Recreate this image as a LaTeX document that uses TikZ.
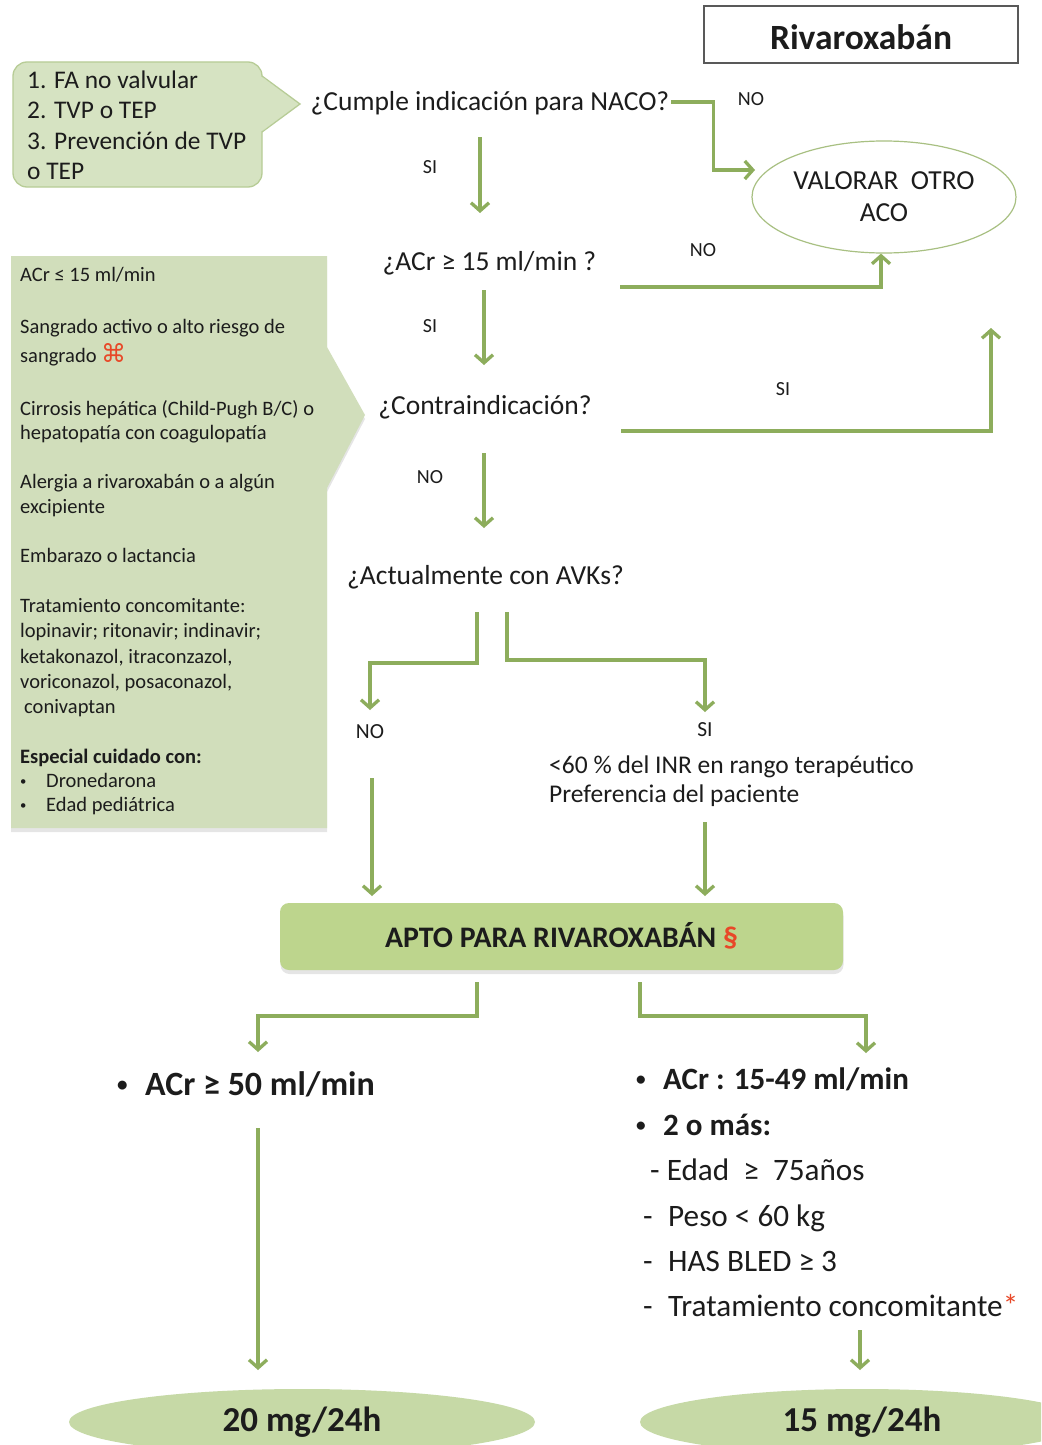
\documentclass[tikz,border=0pt]{standalone}
\usepackage{fontspec}
\setmainfont{Carlito}
\newfontfamily\cmdsignfont{DejaVu Sans}
\usetikzlibrary{arrows.meta,shapes.geometric,shadows}

\definecolor{arrowgreen}{RGB}{141,173,92}
\definecolor{panelgreen}{RGB}{209,222,187}
\definecolor{bubblegreen}{RGB}{214,227,194}
\definecolor{bubbleedge}{RGB}{183,204,150}
\definecolor{aptogreen}{RGB}{189,213,141}
\definecolor{dosegreen}{RGB}{198,217,166}
\definecolor{ovaledge}{RGB}{168,192,130}
\definecolor{ink}{RGB}{28,28,28}
\definecolor{markred}{RGB}{232,72,40}

% small list bullet
\newcommand{\smallbullet}{\raisebox{0.12em}{\scalebox{0.62}{•}}}

\tikzset{
  base/.style={inner sep=0pt, text depth=0pt, text=ink},
  question/.style={base, text height=18pt, font=\fontsize{27.5pt}{33pt}\selectfont},
  smalllbl/.style={base, text height=13pt, font=\fontsize{20pt}{23pt}\selectfont},
  branchlbl/.style={base, text height=14pt, font=\fontsize{21.5pt}{26pt}\selectfont},
  paneltxt/.style={base, text height=13.5pt, anchor=west, font=\fontsize{20.5pt}{25pt}\selectfont},
  bubbletxt/.style={base, text height=17pt, anchor=west, font=\fontsize{25.4pt}{30pt}\selectfont},
  inrtxt/.style={base, text height=17pt, anchor=west, font=\fontsize{25.5pt}{30pt}\selectfont},
  listbold/.style={base, text height=20.5pt, anchor=west, font=\fontsize{31pt}{36pt}\selectfont\bfseries},
  listreg/.style={base, text height=20.5pt, anchor=west, font=\fontsize{31.2pt}{36pt}\selectfont},
  flow/.style={draw=arrowgreen, line width=3.3pt, line join=miter,
    -{Straight Barb[length=8pt,width=18pt]}},
  dose/.style={ellipse, fill=dosegreen, inner sep=0pt, text=ink,
    font=\fontsize{35pt}{40pt}\selectfont\bfseries},
}

\begin{document}
\begin{tikzpicture}[x=1pt,y=-1pt]
\useasboundingbox (0,0) rectangle (1041,1445);
\clip (0,0) rectangle (1041,1445);
\fill[white] (0,0) rectangle (1041,1445);

% title
\node[draw=black!65, line width=1.3pt, minimum width=314pt, minimum height=57pt,
  inner sep=0pt, text=ink, text height=30pt, text depth=0pt,
  font=\fontsize{35.5pt}{40pt}\selectfont\bfseries]
  (title) at (861,34.5) {Rivaroxabán};

% indications bubble
\node[rounded corners=14pt, fill=bubblegreen, draw=bubbleedge, line width=1.3pt,
  minimum width=249pt, minimum height=125pt] (bubble) at (137.5,124.5) {};
\fill[bubblegreen] (260.6,76) -- (300,104) -- (260.6,132) -- cycle;
\draw[bubbleedge, line width=1.3pt, line join=miter] (262,76) -- (300,104) -- (262,132);
\node[bubbletxt] (b1) at (27,80) {1. FA no valvular};
\node[bubbletxt] (b2) at (27,110) {2. TVP o TEP};
\node[bubbletxt] (b3) at (27,141) {3. Prevención de TVP};
\node[bubbletxt] (b4) at (27,171) {o TEP};

% contraindications panel
\path[fill=panelgreen, drop shadow={opacity=0.2, shadow xshift=0pt, shadow yshift=-4pt}]
  (11,256) -- (327,256) -- (327,347) -- (365,415) -- (327,488) -- (327,828) -- (11,828) -- cycle;
\node[paneltxt] (c1) at (20,275) {ACr ≤ 15 ml/min};
\node[paneltxt] (c2) at (20,327) {Sangrado activo o alto riesgo de};
\node[paneltxt] (c3) at (20,356) {sangrado {\cmdsignfont\fontsize{25pt}{25pt}\selectfont\color{markred}⌘}};
\node[paneltxt] (c4) at (20,409) {Cirrosis hepática (Child-Pugh B/C) o};
\node[paneltxt] (c5) at (20,433) {hepatopatía con coagulopatía};
\node[paneltxt] (c6) at (20,482) {Alergia a rivaroxabán o a algún};
\node[paneltxt] (c7) at (20,507) {excipiente};
\node[paneltxt] (c8) at (20,556) {Embarazo o lactancia};
\node[paneltxt] (c9) at (20,606) {Tratamiento concomitante:};
\node[paneltxt] (c10) at (20,631) {lopinavir; ritonavir; indinavir;};
\node[paneltxt] (c11) at (20,657) {ketakonazol, itraconzazol,};
\node[paneltxt] (c12) at (20,682) {voriconazol, posaconazol,};
\node[paneltxt] (c13) at (24,707) {conivaptan};
\node[paneltxt, font=\fontsize{20.5pt}{25pt}\selectfont\bfseries] (c14) at (20,757) {Especial cuidado con:};
\node[paneltxt] (c15) at (20,781) {\makebox[26pt][l]{\smallbullet}Dronedarona};
\node[paneltxt] (c16) at (20,805) {\makebox[26pt][l]{\smallbullet}Edad pediátrica};

% questions
\node[question] (q1) at (490,101) {¿Cumple indicación para NACO?};
\node[question] (q2) at (489.5,261) {¿ACr ≥ 15 ml/min ?};
\node[question] (q3) at (485,405) {¿Contraindicación?};
\node[question] (q4) at (485.5,575) {¿Actualmente con AVKs?};

% other anticoagulant
\node[ellipse, draw=ovaledge, line width=1.2pt, minimum width=264pt, minimum height=112pt,
  inner sep=0pt, align=center, text=ink, font=\fontsize{27.5pt}{32pt}\selectfont]
  (valorar) at (884,197) {VALORAR\ \ OTRO\\ACO};
\coordinate (vin) at (755,170);
\coordinate (sitop) at (991,328);

% branch labels
\node[smalllbl] (l1) at (430,167) {SI};
\node[smalllbl] (l2) at (751,99) {NO};
\node[smalllbl] (l3) at (703,250) {NO};
\node[smalllbl] (l4) at (430,326) {SI};
\node[smalllbl] (l5) at (783,389) {SI};
\node[smalllbl] (l6) at (430,477) {NO};
\node[branchlbl] (no2) at (370,731) {NO};
\node[branchlbl] (si2) at (705,729) {SI};
\node[inrtxt] (inr1) at (549,765) {<60 \% del INR en rango terapéutico};
\node[inrtxt] (inr2) at (549,794) {Preferencia del paciente};

% eligible box
\node[rounded corners=9pt, fill=aptogreen, minimum width=563pt, minimum height=67pt,
  inner sep=0pt, text=ink, text height=21pt, text depth=0pt,
  font=\fontsize{29.8pt}{34pt}\selectfont\bfseries,
  drop shadow={opacity=0.2, shadow xshift=0.5pt, shadow yshift=-4pt}]
  (apto) at (561.5,936.5) {APTO PARA RIVAROXABÁN {\color{markred}§}};

% dosing criteria
\node[listbold, text height=22.5pt, font=\fontsize{34pt}{40pt}\selectfont\bfseries] (acr50) at (117,1084)
  {\makebox[28pt][l]{\smallbullet}ACr ≥ 50 ml/min};
\node[listbold] (r1) at (636,1079) {\makebox[27pt][l]{\smallbullet}ACr : 15-49 ml/min};
\node[listbold] (r2) at (636,1125) {\makebox[27pt][l]{\smallbullet}2 o más:};
\node[listreg] (r3) at (650,1170) {- Edad\ \ ≥\ \ 75años};
\node[listreg] (r4) at (643,1216) {\makebox[25pt][l]{-}Peso < 60 kg};
\node[listreg] (r5) at (643,1261) {\makebox[25pt][l]{-}HAS BLED ≥ 3};
\node[listreg] (r6) at (643,1306) {\makebox[25pt][l]{-}Tratamiento concomitante{\color{markred}*}};

% doses
\node[dose, minimum width=466pt, minimum height=66pt] (dose20) at (302,1422) {20 mg/24h};
\node[dose, minimum width=444pt, minimum height=66pt] (dose15) at (862,1422) {15 mg/24h};

% connectors
\draw[flow] (q1) ++(-10,36) -- ++(0,76);
\draw[flow] (q1.east) ++(2,1) -- ++(42,0) |- (vin);
\draw[flow] (q2) ++(130.5,26) -| ([xshift=-3pt]valorar.south);
\draw[flow] (q2) ++(-5.5,29) -- ++(0,75);
\draw[flow] (q3) ++(136,26) -| (sitop);
\draw[flow] (q3) ++(-1,48) -- ++(0,75);
\draw[flow] (q4) ++(-8.5,37) -- ++(0,51) -- ++(-107,0) -- ++(0,47);
\draw[flow] (q4) ++(21.5,37) -- ++(0,48) -- ++(198,0) -- ++(0,52);
\draw[flow] (no2) ++(2,47) -- ++(0,118);
\draw[flow] (si2) ++(0,93) -- ++(0,74);
\draw[flow] (apto) ++(-84.5,45.5) -- ++(0,34) -- ++(-219,0) -- ++(0,36);
\draw[flow] (apto) ++(78.5,45.5) -- ++(0,34) -- ++(226,0) -- ++(0,37);
\draw[flow] (acr50.west) ++(141,44) -- ++(0,242);
\draw[flow] (r6.west) ++(217,24) -- ++(0,40);
\end{tikzpicture}
\end{document}
